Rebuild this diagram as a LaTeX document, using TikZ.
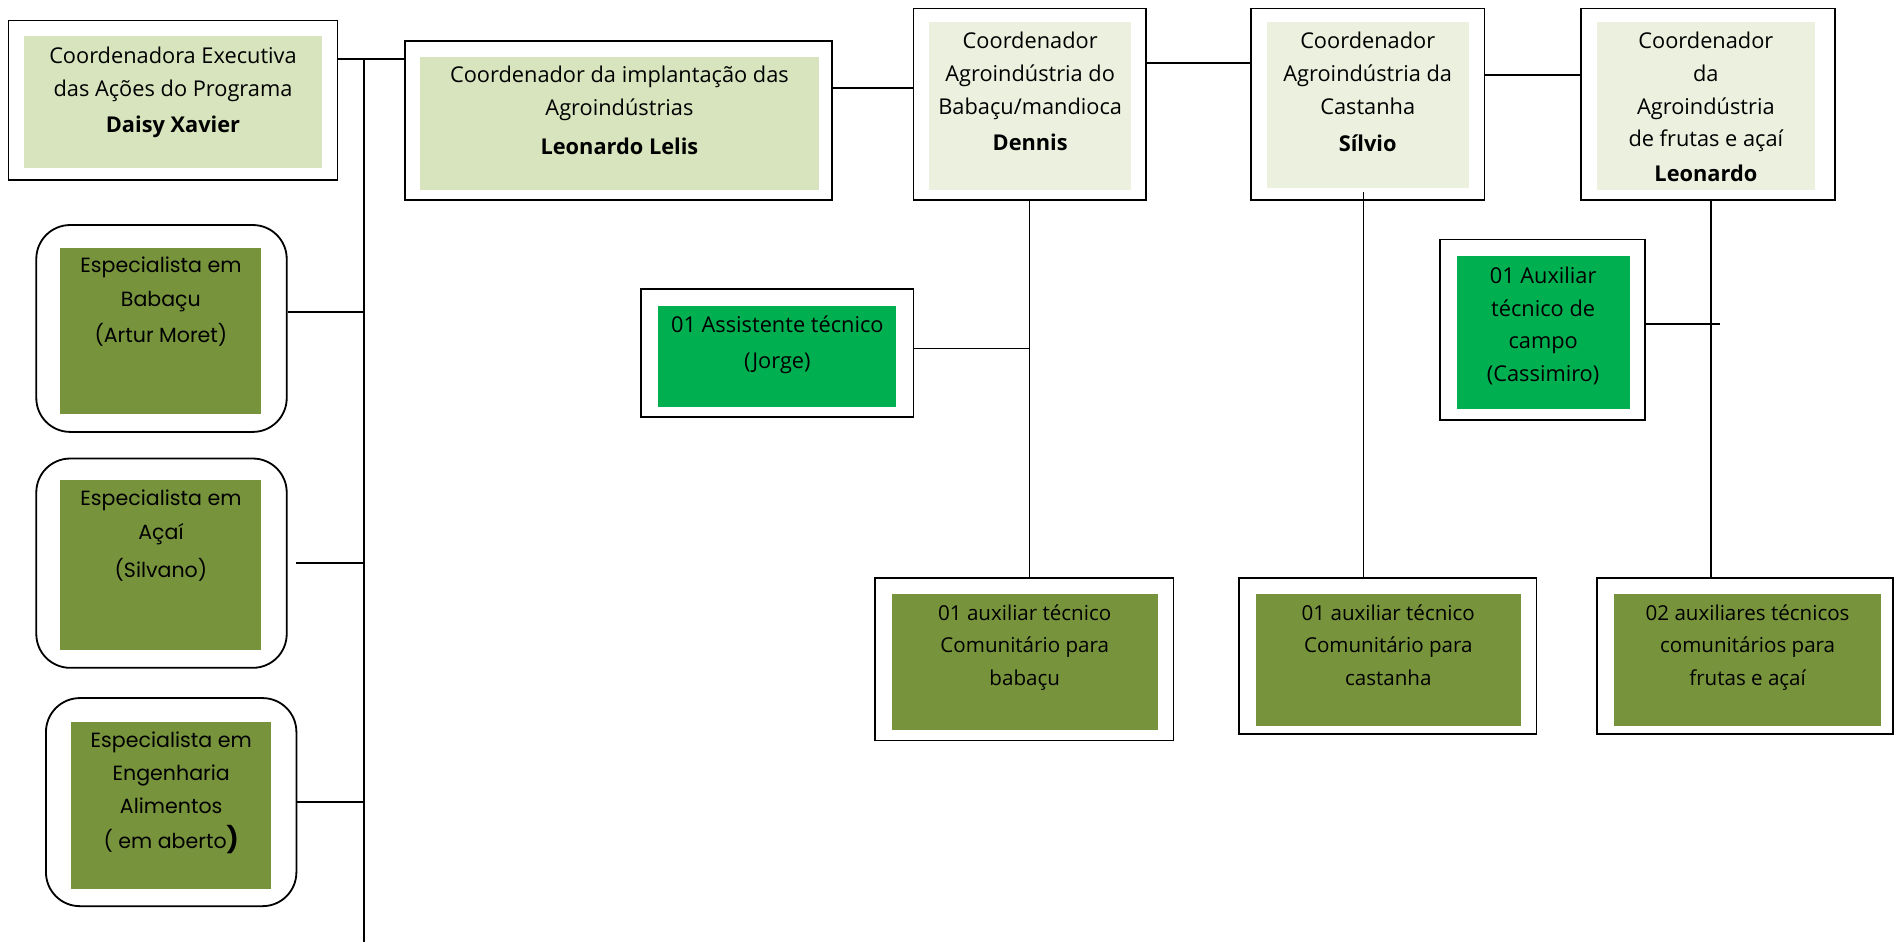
\documentclass[tikz,border=0pt]{standalone}
\usepackage{fontspec}
\setmainfont{Open Sans}
\newfontfamily\roundfont{Poppins}
\definecolor{palegreen}{HTML}{D7E4BD}
\definecolor{lightgreen}{HTML}{EBF1DE}
\definecolor{brightgreen}{HTML}{00B050}
\definecolor{olivegreen}{HTML}{77933C}

\begin{document}
\begin{tikzpicture}[x=1pt, y=-1pt,
    frame/.style={draw, line width=1.5pt, fill=white, inner sep=0pt},
    roundframe/.style={frame, rounded corners=28pt},
    panel/.style={fill=#1, inner sep=0pt},
    txt/.style={anchor=north, align=center, inner sep=0pt, font=\fontsize{18}{27}\selectfont},
    roundtxt/.style={txt, font=\roundfont\fontsize{17}{28}\selectfont},
    smalltxt/.style={txt, font=\fontsize{17}{27}\selectfont},
    link/.style={line width=1.5pt}]
  \useasboundingbox (0,0) rectangle (1568,779);

  % coordinators
  \node[frame, minimum width=272, minimum height=132] (daisy) at (143,83) {};
  \node[panel=palegreen, minimum width=246, minimum height=109] (daisyfill) at (143,84.5) {};
  \node[txt] (daisytxt) at (143,38.5) {Coordenadora Executiva\\das Ações do Programa\\[3pt]\textbf{Daisy Xavier}};

  \node[frame, minimum width=353, minimum height=131] (lelis) at (511.5,99.5) {};
  \node[panel=palegreen, minimum width=330, minimum height=110] (lelisfill) at (512,102) {};
  \node[txt] (lelistxt) at (512,54.5) {Coordenador da implantação das\\Agroindústrias\\[5pt]\textbf{Leonardo Lelis}};

  \node[frame, minimum width=192, minimum height=158] (dennis) at (851,86) {};
  \node[panel=lightgreen, minimum width=167, minimum height=139] (dennisfill) at (851.5,87.5) {};
  \node[txt] (dennistxt) at (851.5,26.5) {Coordenador\\Agroindústria do\\Babaçu/mandioca\\[3pt]\textbf{Dennis}};

  \node[frame, minimum width=193, minimum height=158] (silvio) at (1130.5,86) {};
  \node[panel=lightgreen, minimum width=167, minimum height=137] (silviofill) at (1130.5,86.5) {};
  \node[txt] (silviotxt) at (1130.5,26.5) {Coordenador\\Agroindústria da\\Castanha\\[4pt]\textbf{Sílvio}};

  \node[frame, minimum width=210, minimum height=158] (leonardo) at (1412,86) {};
  \node[panel=lightgreen, minimum width=180, minimum height=139] (leonardofill) at (1410,87.5) {};
  \node[txt] (leonardotxt) at (1410,26.5) {Coordenador\\da\\Agroindústria\\de frutas e açaí\\[2pt]\textbf{Leonardo}};

  % specialists
  \node[roundframe, minimum width=207, minimum height=171] (babacu) at (133.5,271.5) {};
  \node[panel=olivegreen, minimum width=166, minimum height=137] (babacufill) at (133,273.5) {};
  \node[roundtxt] (babacutxt) at (133,212) {Especialista em\\Babaçu\\[2pt](Artur Moret)};

  \node[roundframe, minimum width=207, minimum height=173] (acai) at (133.5,465.5) {};
  \node[panel=olivegreen, minimum width=166, minimum height=140] (acaifill) at (133,467) {};
  \node[roundtxt] (acaitxt) at (133,405) {Especialista em\\Açaí\\[3pt](Silvano)};

  \node[roundframe, minimum width=207, minimum height=172] (engenharia) at (141.5,663) {};
  \node[panel=olivegreen, minimum width=165, minimum height=138] (engenhariafill) at (141.5,666) {};
  \node[roundtxt, font=\roundfont\fontsize{17}{27}\selectfont] (engenhariatxt) at (141.5,605) {Especialista em\\Engenharia\\Alimentos\\[2pt]( em aberto{\fontsize{21}{21}\selectfont\bfseries)}};

  % technical staff
  \node[frame, minimum width=225, minimum height=106] (jorge) at (642.5,292) {};
  \node[panel=brightgreen, minimum width=197, minimum height=83] (jorgefill) at (642.5,294.5) {};
  \node[txt] (jorgetxt) at (642.5,260.5) {01 Assistente técnico\\[3pt](Jorge)};

  \node[frame, minimum width=170, minimum height=149] (cassimiro) at (1275,272.5) {};
  \node[panel=brightgreen, minimum width=143, minimum height=126] (cassimirofill) at (1275.5,275) {};
  \node[txt] (cassimirotxt) at (1275.5,220.5) {01 Auxiliar\\técnico de\\campo\\(Cassimiro)};

  \node[frame, minimum width=247, minimum height=134] (babacuaux) at (846.5,545) {};
  \node[panel=olivegreen, minimum width=220, minimum height=112] (babacuauxfill) at (847,547) {};
  \node[smalltxt] (babacuauxtxt) at (847,499.5) {01 auxiliar técnico\\Comunitário para\\babaçu};

  \node[frame, minimum width=246, minimum height=129] (castanha) at (1147,542.5) {};
  \node[panel=olivegreen, minimum width=219, minimum height=109] (castanhafill) at (1147.5,545.5) {};
  \node[smalltxt] (castanhatxt) at (1147.5,499.5) {01 auxiliar técnico\\Comunitário para\\castanha};

  \node[frame, minimum width=245, minimum height=129] (frutas) at (1442.5,542.5) {};
  \node[panel=olivegreen, minimum width=221, minimum height=109] (frutasfill) at (1444.5,545.5) {};
  \node[smalltxt] (frutastxt) at (1444.5,499.5) {02 auxiliares técnicos\\comunitários para\\frutas e açaí};

  % connectors
  \coordinate (top) at (301,49);
  \coordinate (bottom) at (301,779);
  \draw[link] ([yshift=34pt]daisy.east) -- ([yshift=50.5pt]lelis.west);
  \draw[link] (top) -- (bottom);
  \path ([yshift=13.5pt]babacu.east) coordinate (b1);
  \draw[link] (b1) -- (b1 -| top);
  \draw[link, shorten <=7pt] (acai.east) -- (acai.east -| top);
  \draw[link] (engenharia.east) -- (engenharia.east -| top);

  \draw[link] ([yshift=26.5pt]lelis.east) -- ([yshift=13pt]dennis.west);
  \draw[link] ([yshift=34pt]dennis.east) -- ([yshift=34pt]silvio.west);
  \draw[link] ([yshift=24pt]silvio.east) -- ([yshift=24pt]leonardo.west);

  \draw[link] (dennis.south) -- (dennis.south |- babacuaux.north);
  \path ([yshift=4pt]jorge.east) coordinate (j1);
  \draw[link] (j1) -- (j1 -| dennis.south);
  \path ([xshift=-3.5pt, yshift=7pt]silvio.south) coordinate (s1);
  \draw[link] (s1) -- (s1 |- castanha.north);
  \path ([xshift=2pt]leonardo.south) coordinate (l1);
  \draw[link] (l1) -- (l1 |- frutas.north);
  \coordinate (c1) at (1422,268);
  \draw[link] ([yshift=4.5pt]cassimiro.east) -- (c1);
\end{tikzpicture}
\end{document}
